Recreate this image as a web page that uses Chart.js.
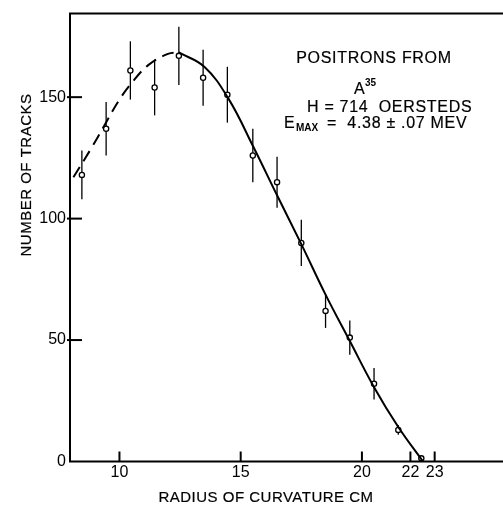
<!DOCTYPE html>
<html>
<head>
<meta charset="utf-8">
<script src="https://cdn.jsdelivr.net/npm/chart.js@4"></script>
<style>
  html, body { margin: 0; padding: 0; background: #fff; }
  #wrap { width: 503px; height: 508px; }
</style>
</head>
<body>
<div id="wrap"><canvas id="myChart" width="503" height="508"></canvas></div>
<script>
// measured points with error bars
const radius = [8.45, 9.45, 10.45, 11.45, 12.45, 13.45, 14.45, 15.5, 16.5, 17.5, 18.5, 19.5, 20.5, 21.5, 22.45];
const tracks = [118, 137, 161, 154, 167, 158, 151, 126, 115, 90, 62, 51, 32, 13, 1.3];
const trackErr = [10, 11, 12, 11.5, 12, 11.5, 11.5, 11, 10.5, 9.5, 7, 7, 6.5, 2, 0];

// fitted curve, dashed part then solid part
const dashX = [8.1, 8.9, 9.5, 10.0, 10.5, 11.2, 12.0, 12.45];
const dashY = [117, 130, 140.5, 149, 155.8, 163.3, 167.8, 168.4];
const solidX = [12.45, 13.5, 14.5, 15.5, 16.5, 17.5, 18.5, 19.5, 20.5, 21.5, 22.52];
const solidY = [168.4, 162.5, 149.3, 130, 109.6, 89.5, 68.7, 49.6, 30.6, 14.2, 0];

const xTicks = [10, 15, 20, 22, 23];
const yTicks = [0, 50, 100, 150];

const ink = '#000';
const font = 'Liberation Sans, Arial, sans-serif';

function pairs(xs, ys) {
  let out = [];
  for (let i = 0; i < xs.length; i++) {
    out.push({ x: xs[i], y: ys[i] });
  }
  return out;
}

// text a bit heavier, like the lettering in the original
function inkText(ctx, s, x, y) {
  ctx.fillText(s, x, y);
  ctx.strokeText(s, x, y);
}

const framePlugin = {
  id: 'frame',
  beforeDatasetsDraw(chart) {
    const ctx = chart.ctx;
    const xs = chart.scales.x;
    const ys = chart.scales.y;
    ctx.save();
    ctx.strokeStyle = ink;
    ctx.lineWidth = 1.3;
    for (let i = 0; i < radius.length; i++) {
      if (!trackErr[i]) continue;
      let px = xs.getPixelForValue(radius[i]);
      ctx.beginPath();
      ctx.moveTo(px, ys.getPixelForValue(tracks[i] + trackErr[i]));
      ctx.lineTo(px, ys.getPixelForValue(tracks[i] - trackErr[i]));
      ctx.stroke();
    }
    ctx.restore();
  },
  afterDraw(chart) {
    const ctx = chart.ctx;
    const a = chart.chartArea;
    const xs = chart.scales.x;
    const ys = chart.scales.y;
    ctx.save();
    ctx.strokeStyle = ink;
    ctx.lineWidth = 2;
    ctx.beginPath();
    ctx.moveTo(chart.width, a.top);
    ctx.lineTo(a.left, a.top);
    ctx.lineTo(a.left, a.bottom);
    ctx.lineTo(chart.width, a.bottom);
    ctx.stroke();

    // tick marks pointing inward
    yTicks.forEach(function (v) {
      if (v === 0) return;
      let py = ys.getPixelForValue(v);
      ctx.beginPath();
      ctx.moveTo(a.left - 3, py);
      ctx.lineTo(a.left + 12, py);
      ctx.stroke();
    });
    xTicks.forEach(function (v) {
      let px = xs.getPixelForValue(v);
      ctx.beginPath();
      ctx.moveTo(px, a.bottom);
      ctx.lineTo(px, a.bottom - 10);
      ctx.stroke();
    });

    // axis titles
    ctx.fillStyle = ink;
    ctx.lineWidth = 0.2;
    ctx.font = '15px ' + font;
    ctx.letterSpacing = '0.5px';
    ctx.textAlign = 'center';
    ctx.textBaseline = 'middle';
    inkText(ctx, 'RADIUS OF CURVATURE CM', 266, 498);
    ctx.save();
    ctx.translate(27, 175);
    ctx.rotate(-Math.PI / 2);
    inkText(ctx, 'NUMBER OF TRACKS', 0, 0);
    ctx.restore();

    // legend block
    ctx.letterSpacing = '0.7px';
    ctx.textBaseline = 'alphabetic';
    ctx.font = '16px ' + font;
    ctx.textAlign = 'center';
    inkText(ctx, 'POSITRONS FROM', 374, 63);
    ctx.textAlign = 'left';
    inkText(ctx, 'A', 354, 94);
    ctx.letterSpacing = '0px';
    ctx.font = 'bold 10px ' + font;
    ctx.fillText('35', 365, 86);
    ctx.letterSpacing = '0.7px';
    ctx.font = '16px ' + font;
    inkText(ctx, 'H = 714  OERSTEDS', 307, 112);
    inkText(ctx, 'E', 284, 128);
    ctx.letterSpacing = '0px';
    ctx.font = 'bold 10px ' + font;
    ctx.fillText('MAX', 296, 131);
    ctx.letterSpacing = '0.7px';
    ctx.font = '16px ' + font;
    inkText(ctx, '=  4.38 \u00b1 .07 MEV', 327, 128);
    ctx.restore();
  }
};

const ctx = document.getElementById('myChart').getContext('2d');
const myChart = new Chart(ctx, {
  type: 'scatter',
  data: {
    datasets: [{
      label: 'fit (extrapolated)',
      data: pairs(dashX, dashY),
      showLine: true,
      borderColor: ink,
      borderWidth: 2,
      borderDash: [12, 7],
      pointRadius: 0,
      tension: 0.4
    }, {
      label: 'fit',
      data: pairs(solidX, solidY),
      showLine: true,
      borderColor: ink,
      borderWidth: 2,
      pointRadius: 0,
      tension: 0.4
    }, {
      label: 'tracks',
      data: pairs(radius, tracks),
      showLine: false,
      pointRadius: 2.6,
      pointBackgroundColor: '#fff',
      pointBorderColor: ink,
      pointBorderWidth: 1.3
    }]
  },
  options: {
    responsive: false,
    animation: false,
    devicePixelRatio: 1,
    layout: { padding: { top: 10, right: 0, left: 0, bottom: 0 } },
    plugins: {
      legend: { display: false },
      tooltip: { enabled: false }
    },
    scales: {
      x: {
        type: 'linear',
        min: 7.96,
        max: 25.6,
        grid: { display: false, drawTicks: false },
        border: { display: false },
        afterBuildTicks: function (scale) {
          scale.ticks = xTicks.map(function (v) { return { value: v }; });
        },
        afterFit: function (scale) { scale.height = 46.5; },
        ticks: {
          autoSkip: false,
          maxRotation: 0,
          padding: 1,
          color: ink,
          font: { family: font, size: 16 }
        }
      },
      y: {
        type: 'linear',
        min: 0,
        max: 184.4,
        grid: { display: false, drawTicks: false },
        border: { display: false },
        afterBuildTicks: function (scale) {
          scale.ticks = yTicks.map(function (v) { return { value: v }; });
        },
        afterFit: function (scale) { scale.width = 70; },
        ticks: {
          autoSkip: false,
          padding: 4,
          color: ink,
          font: { family: font, size: 16 }
        }
      }
    }
  },
  plugins: [framePlugin]
});
</script>
</body>
</html>
